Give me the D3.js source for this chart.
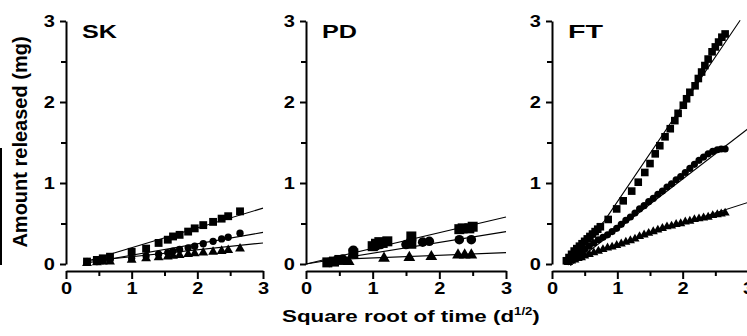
<!DOCTYPE html>
<html><head><meta charset="utf-8">
<script src="https://cdn.jsdelivr.net/npm/d3@7"></script>
<style>
html,body{margin:0;padding:0;background:#fff;}
svg{display:block;}
text{font-family:"Liberation Sans",Arial,Helvetica,sans-serif;font-weight:bold;fill:#000;}
</style></head>
<body>
<svg id="chart" width="747" height="336"></svg>
<script>
// ---------- data ----------
const panelNames = ["SK", "PD", "FT"];
const yTicks = [0, 1, 2, 3];
const yMinorTicks = [0.5, 1.5, 2.5];
const xTicks = [0, 1, 2, 3];
const xMinorTicks = [0.5, 1.5, 2.5];
const xTitle = "Square root of time (d";
const xTitleSup = "1/2";
const yTitle = "Amount released (mg)";

// SK
const skX = [0.32,0.47,0.56,0.67,1.0,1.22,1.41,1.55,1.63,1.73,1.86,1.96,2.09,2.24,2.37,2.47,2.65];
const skSquares = [0.03,0.05,0.07,0.09,0.15,0.19,0.26,0.30,0.34,0.36,0.40,0.44,0.48,0.52,0.56,0.59,0.65];
const skCircles = [0.02,0.03,0.04,0.05,0.07,0.10,0.12,0.14,0.16,0.18,0.20,0.22,0.25,0.28,0.31,0.33,0.38];
const skTriangles = [0.01,0.02,0.03,0.03,0.05,0.07,0.08,0.09,0.10,0.11,0.12,0.13,0.14,0.15,0.16,0.17,0.19];
const skSquareFit = [[0.3,0.03],[3,0.69]];
const skCircleFit = [[0.3,0.01],[3,0.39]];
const skTriangleFit = [[0.3,0.03],[3,0.26]];

// PD
const pdSquareX = [0.32,0.42,0.5,0.71,1.0,1.05,1.1,1.15,1.22,1.58,1.58,2.3,2.35,2.45,2.5];
const pdSquares = [0.02,0.03,0.05,0.13,0.22,0.25,0.27,0.26,0.28,0.25,0.34,0.43,0.44,0.44,0.46];
const pdCircleX = [0.35,0.45,0.55,0.71,1.05,1.12,1.5,1.75,1.85,2.3,2.48];
const pdCircles = [0.02,0.04,0.06,0.17,0.22,0.24,0.24,0.27,0.28,0.30,0.30];
const pdTriangleX = [0.64,1.17,1.55,1.88,2.28,2.38,2.48];
const pdTriangles = [0.03,0.07,0.08,0.09,0.11,0.11,0.11];
const pdSquareFit = [[0,0],[3,0.58]];
const pdCircleFit = [[0,0],[3,0.40]];
const pdTriangleFit = [[0.55,0.06],[3,0.14]];

// FT
const ftSquareX = [0.22,0.26,0.3,0.34,0.38,0.42,0.46,0.5,0.54,0.58,0.62,0.66,0.7,0.74,0.86,0.99,1.09,1.22,1.32,1.42,1.5,1.58,1.65,1.73,1.81,1.88,1.93,2.01,2.06,2.11,2.19,2.24,2.29,2.34,2.39,2.45,2.5,2.55,2.6,2.65];
const ftSquares = [0.04,0.08,0.12,0.16,0.19,0.22,0.25,0.28,0.31,0.34,0.37,0.40,0.43,0.46,0.55,0.68,0.78,0.90,1.01,1.13,1.24,1.36,1.46,1.57,1.67,1.77,1.86,1.96,2.04,2.12,2.20,2.29,2.37,2.45,2.53,2.62,2.68,2.74,2.80,2.84];
const ftX = [0.25,0.3,0.35,0.4,0.45,0.5,0.57,0.64,0.71,0.78,0.85,0.92,0.99,1.06,1.13,1.2,1.27,1.34,1.41,1.48,1.55,1.62,1.69,1.76,1.83,1.9,1.97,2.04,2.11,2.18,2.25,2.32,2.39,2.46,2.53,2.59,2.65];
const ftCircles = [0.03,0.06,0.09,0.12,0.15,0.18,0.22,0.26,0.30,0.33,0.36,0.40,0.44,0.49,0.54,0.58,0.63,0.68,0.72,0.77,0.81,0.86,0.90,0.95,0.99,1.04,1.08,1.13,1.18,1.23,1.28,1.32,1.36,1.39,1.41,1.42,1.42];
const ftTriangles = [0.02,0.04,0.05,0.07,0.08,0.10,0.12,0.14,0.16,0.18,0.20,0.21,0.23,0.25,0.27,0.29,0.31,0.34,0.36,0.38,0.40,0.42,0.44,0.46,0.47,0.49,0.50,0.52,0.53,0.55,0.56,0.57,0.58,0.60,0.61,0.62,0.63];
const ftSquareFit = [[0.2,0.0],[0.8,0.53],[2.88,3.01]];
const ftCircleFit = [[0.28,-0.02],[3,1.67]];
const ftTriangleFit = [[0.3,0.06],[3,0.76]];

// ---------- layout ----------
const yTop = 21, yZero = 264, xAxisY = 271;
const panelRanges = [[66,263],[306,506],[552,748]];
const markerSizes = [
  {sq: 62, ci: 42, tr: 42},
  {sq: 100, ci: 72, tr: 60},
  {sq: 58, ci: 40, tr: 36}
];

const panelData = [
  {squares: {x: skX, y: skSquares}, circles: {x: skX, y: skCircles}, triangles: {x: skX, y: skTriangles},
   fits: [skSquareFit, skCircleFit, skTriangleFit]},
  {squares: {x: pdSquareX, y: pdSquares}, circles: {x: pdCircleX, y: pdCircles}, triangles: {x: pdTriangleX, y: pdTriangles},
   fits: [pdSquareFit, pdCircleFit, pdTriangleFit]},
  {squares: {x: ftSquareX, y: ftSquares}, circles: {x: ftX, y: ftCircles}, triangles: {x: ftX, y: ftTriangles},
   fits: [ftSquareFit, ftCircleFit, ftTriangleFit]}
];

const svg = d3.select("#chart");

panelNames.forEach((name, i) => {
  const x = d3.scaleLinear().domain([0,3]).range(panelRanges[i]);
  const y = d3.scaleLinear().domain([0,3]).range([yZero, yTop]);
  const g = svg.append("g");
  const d = panelData[i];
  const ms = markerSizes[i];

  // fit lines
  const line = d3.line().x(p => x(p[0])).y(p => y(p[1]));
  d.fits.forEach(f => {
    g.append("path").attr("d", line(f)).attr("fill","none").attr("stroke","#000").attr("stroke-width",1.1);
  });

  const drawSym = (series, type, size) => {
    const sym = d3.symbol().type(type).size(size);
    g.selectAll(null).data(series.x.map((v,k)=>[v, series.y[k]])).enter()
      .append("path").attr("d", sym)
      .attr("transform", p => `translate(${x(p[0])},${y(p[1])})`)
      .attr("fill","#000");
  };
  drawSym(d.triangles, d3.symbolTriangle, ms.tr);
  drawSym(d.circles, d3.symbolCircle, ms.ci);
  drawSym(d.squares, d3.symbolSquare, ms.sq);

  // y axis
  g.append("g").attr("transform", `translate(${panelRanges[i][0]},0)`)
    .call(d3.axisLeft(y).tickValues(yTicks).tickSize(6).tickSizeOuter(0).tickPadding(3).tickFormat(d3.format("d")))
    .selectAll(".tick text").attr("transform", "scale(1.25,1)");
  g.append("g").attr("transform", `translate(${panelRanges[i][0]},0)`)
    .call(d3.axisLeft(y).tickValues(yMinorTicks).tickSize(5).tickSizeOuter(0).tickFormat(""))
    .select(".domain").remove();
  // x axis
  g.append("g").attr("transform", `translate(0,${xAxisY})`)
    .call(d3.axisBottom(x).tickValues(xTicks).tickSize(8).tickSizeOuter(0).tickPadding(4).tickFormat(d3.format("d")))
    .selectAll(".tick text").attr("transform", "scale(1.25,1)");
  g.append("g").attr("transform", `translate(0,${xAxisY})`)
    .call(d3.axisBottom(x).tickValues(xMinorTicks).tickSize(5).tickSizeOuter(0).tickFormat(""))
    .select(".domain").remove();

  g.selectAll(".domain, .tick line").attr("stroke","#000").attr("stroke-width",2);
  g.selectAll(".tick text").attr("font-size", 16).attr("font-family", null).attr("fill","#000");

  // panel title
  g.append("text").attr("x", x(0) + 16).attr("y", 38).attr("font-size", 19)
    .attr("textLength", 35).attr("lengthAdjust","spacingAndGlyphs").text(name);
});

// y title
svg.append("text").attr("transform", "translate(27,142) rotate(-90)")
  .attr("text-anchor","middle").attr("font-size", 20).text(yTitle);

// x title, stretched horizontally to the reference width
const xtG = svg.append("g");
const xt = xtG.append("text").attr("x", 0).attr("y", 0).attr("font-size", 17);
xt.append("tspan").text(xTitle);
xt.append("tspan").attr("font-size", 10).attr("dy", -7).text(xTitleSup);
xt.append("tspan").attr("dy", 7).text(")");
const bb = xt.node().getBBox();
const targetW = 258, sx = targetW / bb.width;
xtG.attr("transform", `translate(${411 - targetW/2 - bb.x*sx},322) scale(${sx},1)`);

// scan artefact at left edge
svg.append("line").attr("x1",1).attr("x2",1).attr("y1",148).attr("y2",265).attr("stroke","#000").attr("stroke-width",2);
</script>
</body></html>
